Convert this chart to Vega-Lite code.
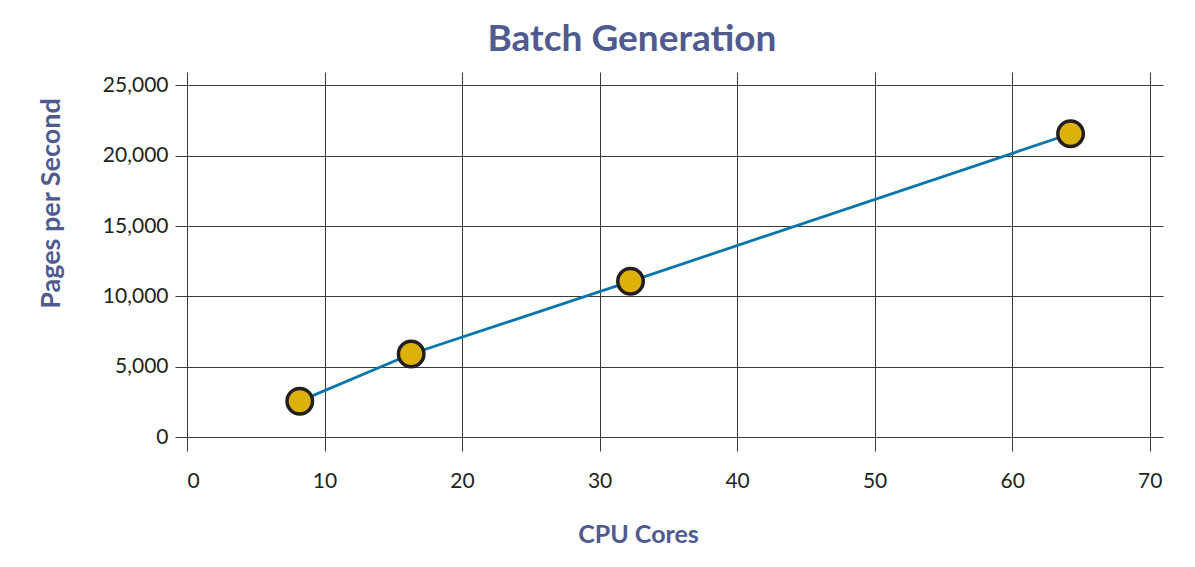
{
  "$schema": "https://vega.github.io/schema/vega-lite/v6.json",
  "autosize": {"type": "none"},
  "width": 976,
  "height": 365,
  "padding": {"left": 187, "top": 72, "right": 32, "bottom": 130},
  "background": "white",
  "title": {
    "text": "Batch Generation",
    "font": "Lato",
    "fontSize": 37,
    "fontWeight": "bold",
    "color": "#4f5b8f",
    "anchor": "middle",
    "dx": -43,
    "offset": 13
  },
  "config": {
    "view": {"stroke": null},
    "axis": {
      "labelFont": "Lato",
      "labelFontSize": 21,
      "labelColor": "#231f20",
      "titleFont": "Lato",
      "titleFontWeight": "bold",
      "titleColor": "#4f5b8f",
      "gridColor": "#3a3a3a",
      "gridOpacity": 1,
      "gridWidth": 1,
      "tickColor": "#3a3a3a",
      "tickWidth": 1,
      "domain": false
    }
  },
  "data": {
    "values": [
      {"cores": 8.2, "pages": 2550},
      {"cores": 16.3, "pages": 5900},
      {"cores": 32.25, "pages": 11070},
      {"cores": 64.25, "pages": 21560}
    ]
  },
  "encoding": {
    "x": {
      "field": "cores",
      "type": "quantitative",
      "scale": {"domain": [0, 70.97], "nice": false, "zero": false},
      "axis": {
        "title": "CPU Cores",
        "values": [0, 10, 20, 30, 40, 50, 60, 70],
        "format": "d",
        "tickSize": 14,
        "labelPadding": 36,
        "labelBaseline": "alphabetic",
        "titleFontSize": 25,
        "titleX": 451,
        "titleY": 105,
        "titleBaseline": "alphabetic",
        "titleAnchor": null,
        "titleAlign": "center"
      }
    },
    "y": {
      "field": "pages",
      "type": "quantitative",
      "scale": {"domain": [0, 25953], "nice": false},
      "axis": {
        "title": "Pages per Second",
        "values": [0, 5000, 10000, 15000, 20000, 25000],
        "format": ",d",
        "tickSize": 12,
        "labelPadding": 7,
        "titleFontSize": 27,
        "titleAngle": -90,
        "titleX": -128,
        "titleY": 131,
        "titleBaseline": "alphabetic",
        "titleAlign": "center"
      }
    }
  },
  "layer": [
    {"mark": {"type": "line", "color": "#0a76aa", "strokeWidth": 2.8}},
    {"mark": {"type": "point", "filled": true, "fill": "#dcb20a", "stroke": "#231f20", "strokeWidth": 3.5, "size": 650, "opacity": 1, "shape": "circle"}}
  ]
}
